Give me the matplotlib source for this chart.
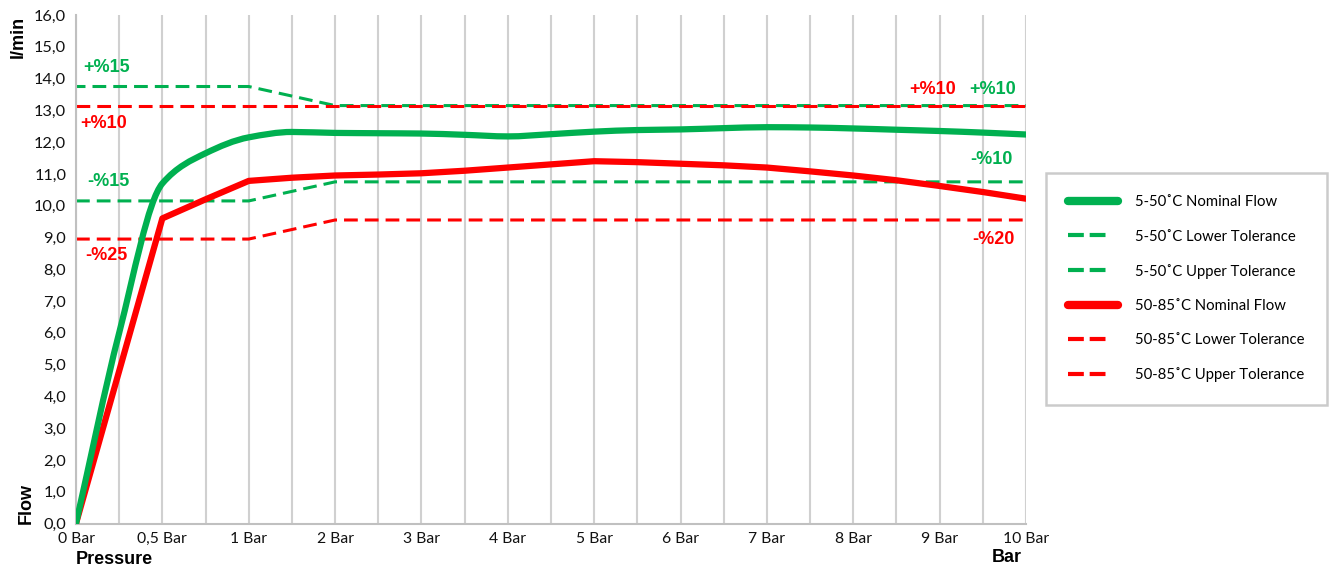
import numpy as np
import matplotlib.pyplot as plt
from matplotlib.lines import Line2D
from matplotlib.path import Path
from matplotlib.patches import PathPatch

plt.rcParams['font.family'] = ['Lato', 'DejaVu Sans']

# x positions: 23 half-step slots, labels on every other one
pressure_labels = ['0 Bar', '0,5 Bar', '1 Bar', '2 Bar', '3 Bar', '4 Bar', '5 Bar',
                   '6 Bar', '7 Bar', '8 Bar', '9 Bar', '10 Bar']

green_nominal = [0.0, 6.0, 10.7, 11.65, 12.15, 12.32, 12.29, 12.28, 12.27, 12.23, 12.18, 12.25,
                 12.33, 12.38, 12.40, 12.44, 12.47, 12.46, 12.43, 12.39, 12.35, 12.30, 12.24]
green_lower = [10.15, 10.15, 10.15, 10.15, 10.15, 10.45, 10.75, 10.75, 10.75, 10.75, 10.75, 10.75,
               10.75, 10.75, 10.75, 10.75, 10.75, 10.75, 10.75, 10.75, 10.75, 10.75, 10.75]
green_upper = [13.75, 13.75, 13.75, 13.75, 13.75, 13.45, 13.15, 13.15, 13.15, 13.15, 13.15, 13.15,
               13.15, 13.15, 13.15, 13.15, 13.15, 13.15, 13.15, 13.15, 13.15, 13.15, 13.15]
red_nominal = [0.0, 4.8, 9.6, 10.2, 10.78, 10.88, 10.95, 10.98, 11.02, 11.1, 11.2, 11.3,
               11.4, 11.37, 11.32, 11.27, 11.2, 11.08, 10.95, 10.8, 10.62, 10.43, 10.22]
red_lower = [8.95, 8.95, 8.95, 8.95, 8.95, 9.25, 9.55, 9.55, 9.55, 9.55, 9.55, 9.55,
             9.55, 9.55, 9.55, 9.55, 9.55, 9.55, 9.55, 9.55, 9.55, 9.55, 9.55]
red_upper = [13.15] * 23

GREEN = '#00B050'
RED = '#FF0000'

x = np.arange(len(green_nominal))


def smooth_path(xs, ys):
    # smoothed line through the points, monotone bezier segments
    xs = np.asarray(xs, float)
    ys = np.asarray(ys, float)
    s = np.diff(ys) / np.diff(xs)
    d = np.zeros(len(ys))
    d[0], d[-1] = s[0], s[-1]
    for i in range(1, len(ys) - 1):
        if s[i - 1] * s[i] > 0:
            d[i] = 2 * s[i - 1] * s[i] / (s[i - 1] + s[i])
    verts = [(xs[0], ys[0])]
    codes = [Path.MOVETO]
    for i in range(len(ys) - 1):
        h = xs[i + 1] - xs[i]
        verts += [(xs[i] + h / 3, ys[i] + d[i] * h / 3),
                  (xs[i + 1] - h / 3, ys[i + 1] - d[i + 1] * h / 3),
                  (xs[i + 1], ys[i + 1])]
        codes += [Path.CURVE4] * 3
    return Path(verts, codes)


fig = plt.figure(figsize=(13.29, 5.71), dpi=100)
ax = fig.add_axes([76 / 1329, 47.5 / 571, 950 / 1329, 508.5 / 571])

dash = (4.5, 2.3)
ax.plot(x, green_lower, color=GREEN, lw=2.2, dashes=dash, zorder=2)
ax.plot(x, green_upper, color=GREEN, lw=2.2, ls=(1.4, dash), zorder=2)
ax.plot(x, red_nominal, color=RED, lw=4.5, solid_capstyle='round', solid_joinstyle='round', zorder=3)
ax.plot(x, red_lower, color=RED, lw=2.2, dashes=dash, zorder=2)
ax.plot(x, red_upper, color=RED, lw=2.2, dashes=dash, zorder=2.5)
ax.add_patch(PathPatch(smooth_path(x, green_nominal), fill=False, edgecolor=GREEN, lw=4.5,
                       capstyle='round', joinstyle='round', zorder=3.5))

ax.set_xlim(0, 22)
ax.set_ylim(0, 16)
ax.set_xticks(x, minor=True)
ax.set_xticks(x[::2])
ax.set_xticklabels(pressure_labels)
ax.set_yticks(np.arange(0, 17, 1))
ax.set_yticklabels([f'{v:.1f}'.replace('.', ',') for v in range(17)])
ax.tick_params(axis='both', which='both', length=0, colors='#111111')
ax.tick_params(axis='y', pad=7, labelsize=11.8)
ax.tick_params(axis='x', pad=6, labelsize=11.3)
ax.grid(axis='x', which='both', color='#d0d0d0', lw=1.5, zorder=0)
for s in ['top', 'right']:
    ax.spines[s].set_visible(False)
ax.spines['left'].set_color('#c0c0c0')
ax.spines['left'].set_linewidth(1.5)
ax.spines['bottom'].set_color('#c0c0c0')
ax.spines['bottom'].set_linewidth(1.5)

bold = dict(family=['Liberation Sans', 'DejaVu Sans'], fontweight='bold', fontsize=13)
fig.text(18 / 1329, 1 - 37 / 571, 'l/min', rotation=90, ha='center', va='center', **bold)
fig.text(26 / 1329, 1 - 503 / 571, 'Flow', rotation=90, ha='center', va='center', **bold)
fig.text(76 / 1329, 1 - 560 / 571, 'Pressure', ha='left', va='center', **bold)
fig.text(1007 / 1329, 1 - 558 / 571, 'Bar', ha='center', va='center', **bold)

ann = dict(family=['Liberation Sans', 'DejaVu Sans'], fontweight='bold', fontsize=13,
           ha='center', va='center')
fig.text(107 / 1329, 1 - 68 / 571, '+%15', color=GREEN, **ann)
fig.text(104 / 1329, 1 - 123 / 571, '+%10', color=RED, **ann)
fig.text(108 / 1329, 1 - 182 / 571, '-%15', color=GREEN, **ann)
fig.text(106 / 1329, 1 - 255 / 571, '-%25', color=RED, **ann)
fig.text(933 / 1329, 1 - 89 / 571, '+%10', color=RED, **ann)
fig.text(993 / 1329, 1 - 89 / 571, '+%10', color=GREEN, **ann)
fig.text(991 / 1329, 1 - 160 / 571, '-%10', color=GREEN, **ann)
fig.text(993 / 1329, 1 - 240 / 571, '-%20', color=RED, **ann)

leg_dash = (3.8, 1.4, 3.8, 20)
handles = [
    Line2D([], [], color=GREEN, lw=6, solid_capstyle='round'),
    Line2D([], [], color=GREEN, lw=3, dashes=leg_dash),
    Line2D([], [], color=GREEN, lw=3, dashes=leg_dash),
    Line2D([], [], color=RED, lw=6, solid_capstyle='round'),
    Line2D([], [], color=RED, lw=3, dashes=leg_dash),
    Line2D([], [], color=RED, lw=3, dashes=leg_dash),
]
labels = ['5-50\u02daC Nominal Flow', '5-50\u02daC Lower Tolerance', '5-50\u02daC Upper Tolerance',
          '50-85\u02daC Nominal Flow', '50-85\u02daC Lower Tolerance', '50-85\u02daC Upper Tolerance']
leg = fig.legend(handles, labels, loc='upper left', bbox_to_anchor=(1046 / 1329, 1 - 173 / 571),
                 frameon=True, fancybox=False, fontsize=10.7, handlelength=3.35, handletextpad=1.15,
                 labelspacing=1.36, borderpad=1.5, borderaxespad=0)
leg.get_frame().set_edgecolor('#bfbfbf')
leg.get_frame().set_linewidth(1.8)

fig.savefig('out.png', dpi=100)
